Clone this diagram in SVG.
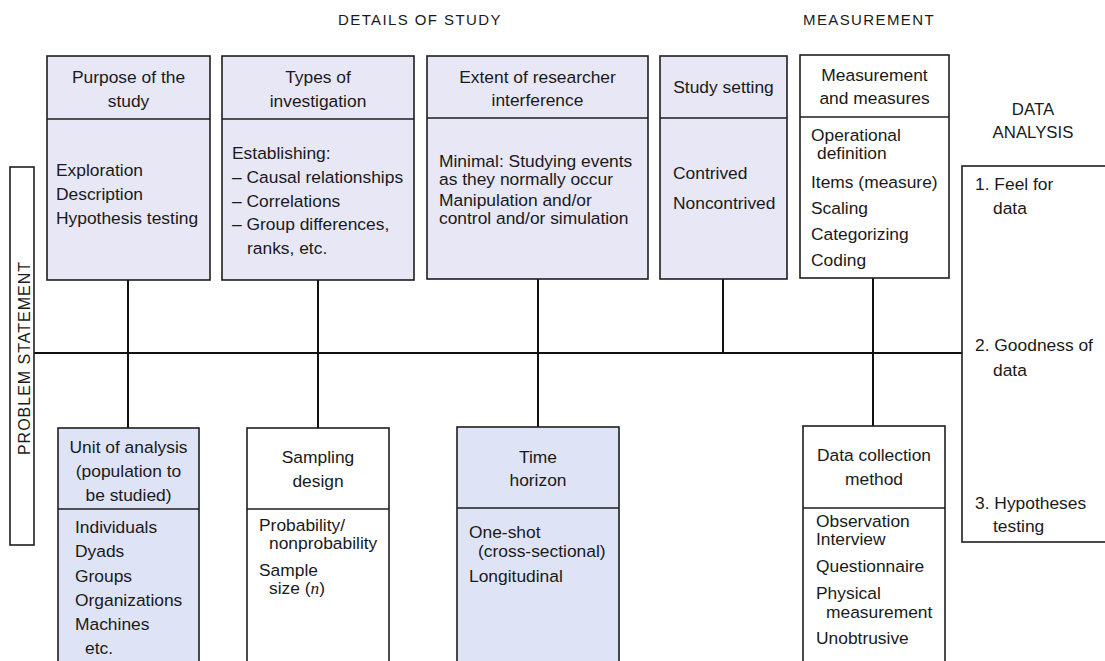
<svg xmlns="http://www.w3.org/2000/svg" width="1105" height="661" viewBox="0 0 1105 661">
<style>
  text { font-family: "Liberation Sans", Arial, sans-serif; font-size: 17.4px; fill: #1a1a1a; }
  .title { font-size: 15px; letter-spacing: 1.4px; }
  .da { font-size: 16.8px; }
  .c { text-anchor: middle; }
  .box { stroke: #1e1e1e; stroke-width: 1.6; }
  .lav { fill: #e7e7f6; }
  .blue { fill: #dfe3f6; }
  .white { fill: #ffffff; }
  .div { stroke: #1e1e1e; stroke-width: 1.6; }
  .conn line { stroke: #111; stroke-width: 2; }
  .it { font-family: "Liberation Serif", "Times New Roman", serif; font-style: italic; }
</style>
<rect width="1105" height="661" fill="#ffffff"/>

<g id="headings">
  <text class="title" x="338" y="25">DETAILS OF STUDY</text>
  <text class="title" x="803" y="25">MEASUREMENT</text>
  <text class="da c" x="1033" y="115">DATA</text>
  <text class="da c" x="1033" y="138">ANALYSIS</text>
</g>

<g id="connectors" class="conn">
  <line x1="34" y1="353" x2="962" y2="353"/>
  <line x1="128" y1="280" x2="128" y2="428"/>
  <line x1="318" y1="280" x2="318" y2="428"/>
  <line x1="538" y1="279" x2="538" y2="427"/>
  <line x1="723" y1="279" x2="723" y2="353"/>
  <line x1="873" y1="278" x2="873" y2="426"/>
</g>

<g id="problem-statement">
  <rect class="box white" x="10" y="167" width="24" height="378"/>
  <text class="c" transform="translate(29.5,358) rotate(-90)" style="font-size:16px;letter-spacing:1px">PROBLEM STATEMENT</text>
</g>

<g id="purpose">
  <rect class="box lav" x="47" y="56" width="163" height="224"/>
  <line class="div" x1="47" y1="119" x2="210" y2="119"/>
  <text class="c" x="128.5" y="83">Purpose of the</text>
  <text class="c" x="128.5" y="107">study</text>
  <text x="56" y="176">Exploration</text>
  <text x="56" y="200">Description</text>
  <text x="56" y="224">Hypothesis testing</text>
</g>

<g id="types">
  <rect class="box lav" x="222" y="56" width="192" height="224"/>
  <line class="div" x1="222" y1="119" x2="414" y2="119"/>
  <text class="c" x="318" y="83">Types of</text>
  <text class="c" x="318" y="107">investigation</text>
  <text x="232" y="159">Establishing:</text>
  <text x="232" y="183">– Causal relationships</text>
  <text x="232" y="207">– Correlations</text>
  <text x="232" y="230">– Group differences,</text>
  <text x="247" y="254">ranks, etc.</text>
</g>

<g id="extent">
  <rect class="box lav" x="427" y="56" width="221" height="223"/>
  <line class="div" x1="427" y1="118" x2="648" y2="118"/>
  <text class="c" x="537.5" y="83">Extent of researcher</text>
  <text class="c" x="537.5" y="106">interference</text>
  <text x="439" y="167">Minimal: Studying events</text>
  <text x="439" y="185">as they normally occur</text>
  <text x="439" y="206">Manipulation and/or</text>
  <text x="439" y="224">control and/or simulation</text>
</g>

<g id="study-setting">
  <rect class="box lav" x="660" y="56" width="127" height="223"/>
  <line class="div" x1="660" y1="118" x2="787" y2="118"/>
  <text class="c" x="723.5" y="93">Study setting</text>
  <text x="673" y="179">Contrived</text>
  <text x="673" y="209">Noncontrived</text>
</g>

<g id="measurement">
  <rect class="box white" x="800" y="55" width="149" height="223"/>
  <line class="div" x1="800" y1="117" x2="949" y2="117"/>
  <text class="c" x="874.5" y="81">Measurement</text>
  <text class="c" x="874.5" y="104">and measures</text>
  <text x="811" y="141">Operational</text>
  <text x="817" y="159">definition</text>
  <text x="811" y="188">Items (measure)</text>
  <text x="811" y="214">Scaling</text>
  <text x="811" y="240">Categorizing</text>
  <text x="811" y="266">Coding</text>
</g>

<g id="data-analysis">
  <rect class="box white" x="962" y="166" width="160" height="376"/>
  <text x="975" y="190">1. Feel for</text>
  <text x="993" y="214">data</text>
  <text x="975" y="351">2. Goodness of</text>
  <text x="993" y="376">data</text>
  <text x="975" y="509">3. Hypotheses</text>
  <text x="993" y="532">testing</text>
</g>

<g id="unit-of-analysis">
  <rect class="box blue" x="58" y="428" width="141" height="245"/>
  <line class="div" x1="58" y1="509" x2="199" y2="509"/>
  <text class="c" x="128.5" y="453">Unit of analysis</text>
  <text class="c" x="128.5" y="477">(population to</text>
  <text class="c" x="128.5" y="501">be studied)</text>
  <text x="75" y="533">Individuals</text>
  <text x="75" y="557">Dyads</text>
  <text x="75" y="582">Groups</text>
  <text x="75" y="606">Organizations</text>
  <text x="75" y="630">Machines</text>
  <text x="85" y="654">etc.</text>
</g>

<g id="sampling-design">
  <rect class="box white" x="247" y="428" width="142" height="245"/>
  <line class="div" x1="247" y1="509" x2="389" y2="509"/>
  <text class="c" x="318" y="463">Sampling</text>
  <text class="c" x="318" y="487">design</text>
  <text x="259" y="531">Probability/</text>
  <text x="269" y="549">nonprobability</text>
  <text x="259" y="576">Sample</text>
  <text x="269" y="594">size (<tspan class="it">n</tspan>)</text>
</g>

<g id="time-horizon">
  <rect class="box blue" x="457" y="427" width="162" height="246"/>
  <line class="div" x1="457" y1="508" x2="619" y2="508"/>
  <text class="c" x="538" y="463">Time</text>
  <text class="c" x="538" y="486">horizon</text>
  <text x="469" y="538">One-shot</text>
  <text x="478" y="557">(cross-sectional)</text>
  <text x="469" y="582">Longitudinal</text>
</g>

<g id="data-collection">
  <rect class="box white" x="803" y="426" width="142" height="247"/>
  <line class="div" x1="803" y1="508" x2="945" y2="508"/>
  <text class="c" x="874" y="461">Data collection</text>
  <text class="c" x="874" y="485">method</text>
  <text x="816" y="527">Observation</text>
  <text x="816" y="545">Interview</text>
  <text x="816" y="572">Questionnaire</text>
  <text x="816" y="599">Physical</text>
  <text x="826" y="618">measurement</text>
  <text x="816" y="644">Unobtrusive</text>
</g>
</svg>
